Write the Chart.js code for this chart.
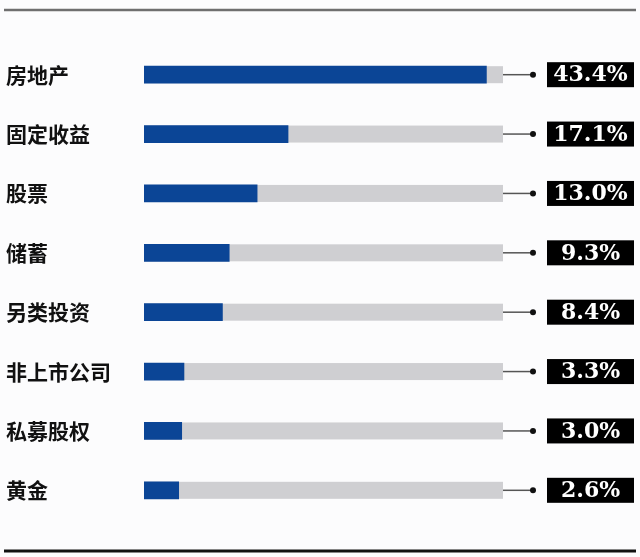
<!DOCTYPE html>
<html>
<head>
<meta charset="utf-8">
<script src="https://cdn.jsdelivr.net/npm/chart.js@4"></script>
<style>
  body { margin: 0; background: #fcfcfd; }
  #wrap { width: 640px; height: 557px; }
</style>
</head>
<body>
<div id="wrap"><canvas id="assets" width="640" height="557"></canvas></div>
<script>
var categories = ['房地产', '固定收益', '股票', '储蓄', '另类投资', '非上市公司', '私募股权', '黄金'];
var shares = [43.4, 17.1, 13.0, 9.3, 8.4, 3.3, 3.0, 2.6]; // %
var axisMin = -2;      // bars start a little before zero in the original
var axisMax = 45.6;    // end of the grey track

// grey track behind every bar + connector, dot and black value box
var decorations = {
    id: 'decorations',
    beforeDraw: function (chart) {
        var c = chart.ctx;
        c.save();
        c.fillStyle = '#fcfcfd';
        c.fillRect(0, 0, chart.width, chart.height);
        // rules on top and bottom
        c.strokeStyle = '#6f6f6f';
        c.lineWidth = 2.5;
        c.beginPath(); c.moveTo(4, 10); c.lineTo(636, 10); c.stroke();
        c.strokeStyle = '#111';
        c.lineWidth = 3;
        c.beginPath(); c.moveTo(4, 551); c.lineTo(636, 551); c.stroke();
        c.restore();
    },
    beforeDatasetsDraw: function (chart) {
        var c = chart.ctx, area = chart.chartArea;
        c.save();
        c.fillStyle = '#cfcfd2';
        chart.getDatasetMeta(0).data.forEach(function (bar) {
            c.fillRect(area.left, bar.y - bar.height / 2, area.right - area.left, bar.height);
        });
        c.restore();
    },
    afterDatasetsDraw: function (chart) {
        var c = chart.ctx, area = chart.chartArea;
        var dotX = area.right + 30, boxL = area.right + 44, boxW = 87, boxH = 25;
        c.save();
        chart.getDatasetMeta(0).data.forEach(function (bar, i) {
            var y = bar.y;
            c.strokeStyle = '#555';
            c.lineWidth = 1.5;
            c.beginPath(); c.moveTo(area.right, y); c.lineTo(dotX, y); c.stroke();
            c.fillStyle = '#111';
            c.beginPath(); c.arc(dotX, y, 3, 0, Math.PI * 2); c.fill();
            c.fillStyle = '#000';
            c.fillRect(boxL, y - boxH / 2, boxW, boxH);
            c.fillStyle = '#fff';
            c.font = 'bold 22px "DejaVu Serif"';
            c.textAlign = 'center';
            c.textBaseline = 'middle';
            c.fillText(shares[i].toFixed(1) + '%', boxL + boxW / 2, y + 1);
        });
        c.restore();
    }
};

new Chart(document.getElementById('assets').getContext('2d'), {
    type: 'bar',
    data: {
        labels: categories,
        datasets: [{
            data: shares,
            base: axisMin,
            backgroundColor: '#0b4596',
            barThickness: 17
        }]
    },
    options: {
        indexAxis: 'y',
        responsive: false,
        animation: false,
        layout: { padding: { left: 6, right: 137, top: 45, bottom: 37 } },
        plugins: { legend: { display: false }, tooltip: { enabled: false } },
        scales: {
            x: { display: false, min: axisMin, max: axisMax },
            y: {
                grid: { display: false },
                border: { display: false },
                ticks: {
                    crossAlign: 'far',
                    color: '#111',
                    font: { family: '"Noto Sans CJK SC"', size: 21, weight: 'bold' }
                },
                afterFit: function (axis) { axis.width = 138; }
            }
        }
    },
    plugins: [decorations]
});
</script>
</body>
</html>
